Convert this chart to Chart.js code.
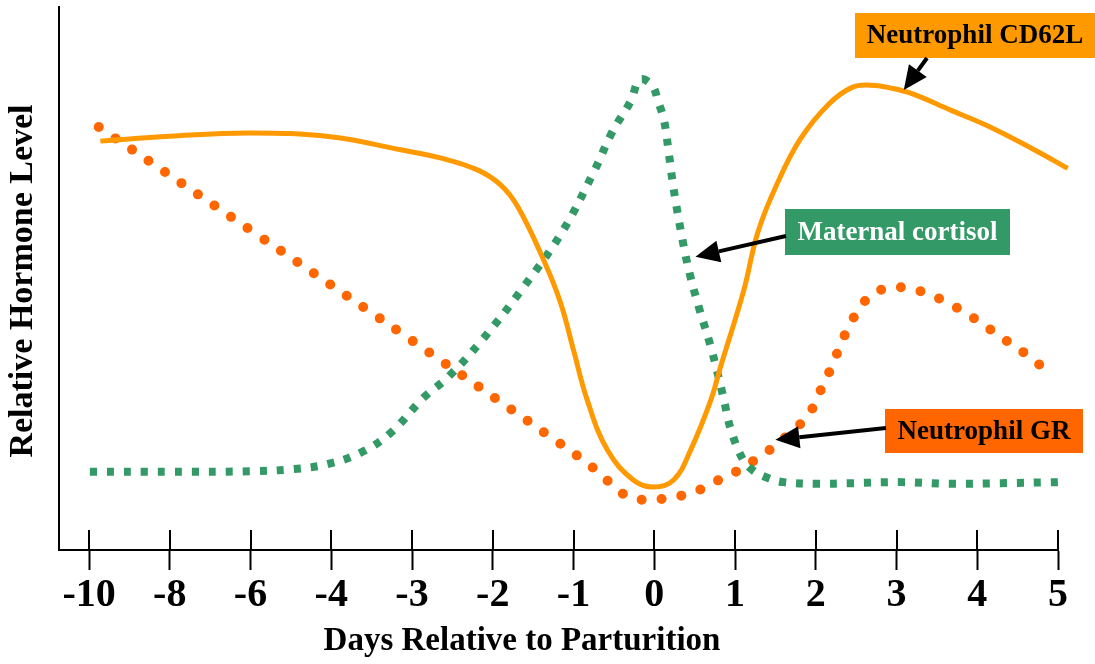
<!DOCTYPE html>
<html>
<head>
<meta charset="utf-8">
<script src="https://cdn.jsdelivr.net/npm/chart.js@4"></script>
<style>
  body { margin: 0; background: #fff; }
  canvas { display: block; }
</style>
</head>
<body>
<canvas id="grafica" width="1095" height="664"></canvas>
<script>
// tick labels (days) - axis is evenly spaced by position, not by day
const dayLabels = ['-10', '-8', '-6', '-4', '-3', '-2', '-1', '0', '1', '2', '3', '4', '5'];

// Neutrophil CD62L (position along axis, relative level)
const cd62lPos = [0.14, 1.0, 2.0, 2.99, 3.86, 4.35, 4.81, 5.1, 5.31, 5.63, 5.84, 6.0, 6.17, 6.42, 6.74, 6.99, 7.24, 7.45, 7.7, 7.82, 8.11, 8.28, 8.52, 8.81, 9.16, 9.45, 9.68, 9.92, 10.2, 10.67, 11.1, 11.67, 12.12];
const cd62lLevel = [75.3, 76.2, 76.8, 76.1, 73.7, 72.2, 70.0, 67.2, 63.2, 53.4, 45.5, 36.8, 27.6, 18.4, 12.9, 11.6, 12.9, 18.4, 27.6, 33.7, 47.9, 58.4, 67.4, 75.7, 82.1, 85.2, 85.6, 85.1, 84.0, 81.0, 78.3, 74.0, 70.3];

// Maternal cortisol
const cortisolPos = [0.01, 1.0, 2.0, 2.53, 2.95, 3.36, 3.73, 4.14, 4.45, 4.87, 5.38, 5.86, 6.25, 6.48, 6.71, 6.82, 6.97, 7.05, 7.12, 7.18, 7.24, 7.35, 7.44, 7.55, 7.7, 7.85, 7.95, 8.1, 8.22, 8.4, 8.6, 9.03, 9.43, 10.05, 10.67, 11.29, 12.0];
const cortisolLevel = [14.4, 14.4, 14.5, 14.9, 15.8, 17.9, 21.5, 28.0, 31.9, 38.7, 48.4, 58.6, 69.6, 77.0, 82.7, 86.6, 85.6, 82.5, 79.2, 73.1, 66.5, 57.1, 50.8, 44.8, 37.4, 28.5, 22.1, 16.6, 14.7, 13.3, 12.5, 12.2, 12.3, 12.5, 12.2, 12.3, 12.5];

// Neutrophil GR
const grPos = [0.12, 2.0, 3.86, 6.09, 6.3, 6.48, 6.68, 6.92, 7.17, 7.41, 7.64, 7.86, 8.1, 8.29, 8.5, 8.69, 8.88, 9.0, 9.1, 9.21, 9.3, 9.41, 9.53, 9.69, 9.92, 10.18, 10.41, 10.64, 10.86, 11.07, 11.27, 11.48, 11.68, 11.88];
const grLevel = [77.9, 58.9, 40.0, 16.9, 14.4, 12.0, 9.8, 9.2, 9.6, 10.3, 11.6, 13.4, 15.1, 17.1, 19.2, 21.7, 24.3, 27.3, 30.8, 34.1, 37.6, 41.1, 44.2, 47.0, 48.3, 48.1, 47.0, 45.5, 43.6, 41.6, 39.4, 37.4, 35.2, 32.8];

const fuente = 'Liberation Serif, "Times New Roman", serif';

function puntos(pos, level) {
  return pos.map((x, i) => ({ x, y: level[i] }));
}

// labels with arrows (tip given in data coords)
const etiquetas = [
  { texto: 'Neutrophil CD62L', box: [855, 13, 240, 45], fondo: '#FF9900', color: '#000', cola: [927, 58], punta: [10.09, 84.7] },
  { texto: 'Maternal cortisol', box: [785, 209, 225, 46], fondo: '#339966', color: '#fff', cola: [786, 236], punta: [7.51, 54.0] },
  { texto: 'Neutrophil GR', box: [885, 409, 198, 44], fondo: '#FF6600', color: '#000', cola: [886, 428], punta: [8.5, 20.3] }
];

const extras = {
  id: 'extras',
  afterDraw(chart) {
    const ctx = chart.ctx;
    const xs = chart.scales.x;
    const ys = chart.scales.y;
    const area = chart.chartArea;

    // tick marks above axis line
    ctx.save();
    ctx.strokeStyle = '#000';
    ctx.lineWidth = 2;
    dayLabels.forEach((_, i) => {
      const px = Math.round(xs.getPixelForValue(i));
      ctx.beginPath();
      ctx.moveTo(px, area.bottom - 20);
      ctx.lineTo(px, area.bottom);
      ctx.stroke();
    });

    // axis titles
    ctx.fillStyle = '#000';
    ctx.textAlign = 'center';
    ctx.textBaseline = 'middle';
    ctx.font = 'bold 33px ' + fuente;
    ctx.fillText('Days Relative to Parturition', 522, 641);
    ctx.save();
    ctx.translate(23, 281);
    ctx.rotate(-Math.PI / 2);
    ctx.font = 'bold 34px ' + fuente;
    ctx.fillText('Relative Hormone Level', 0, 0);
    ctx.restore();

    // labelled boxes + arrows
    etiquetas.forEach(e => {
      const [bx, by, bw, bh] = e.box;
      ctx.fillStyle = e.fondo;
      ctx.fillRect(bx, by, bw, bh);
      ctx.fillStyle = e.color;
      ctx.font = 'bold 27px ' + fuente;
      ctx.fillText(e.texto, bx + bw / 2, by + bh / 2 + 1);

      const tx = xs.getPixelForValue(e.punta[0]);
      const ty = ys.getPixelForValue(e.punta[1]);
      const [cx, cy] = e.cola;
      const ang = Math.atan2(ty - cy, tx - cx);
      const largo = 24, ancho = 11;
      const bxh = tx - largo * Math.cos(ang);
      const byh = ty - largo * Math.sin(ang);
      ctx.strokeStyle = '#000';
      ctx.lineWidth = 4;
      ctx.beginPath();
      ctx.moveTo(cx, cy);
      ctx.lineTo(bxh, byh);
      ctx.stroke();
      ctx.fillStyle = '#000';
      ctx.beginPath();
      ctx.moveTo(tx, ty);
      ctx.lineTo(bxh + ancho * Math.sin(ang), byh - ancho * Math.cos(ang));
      ctx.lineTo(bxh - ancho * Math.sin(ang), byh + ancho * Math.cos(ang));
      ctx.closePath();
      ctx.fill();
    });
    ctx.restore();
  }
};

new Chart(document.getElementById('grafica'), {
  type: 'line',
  data: {
    datasets: [
      {
        label: 'Neutrophil CD62L',
        data: puntos(cd62lPos, cd62lLevel),
        borderColor: '#FF9900',
        borderWidth: 5,
        pointRadius: 0,
        tension: 0.4,
        clip: false
      },
      {
        label: 'Maternal cortisol',
        data: puntos(cortisolPos, cortisolLevel),
        borderColor: '#339966',
        borderWidth: 8,
        borderDash: [7, 10],
        borderCapStyle: 'butt',
        pointRadius: 0,
        tension: 0.4,
        clip: false
      },
      {
        label: 'Neutrophil GR',
        data: puntos(grPos, grLevel),
        borderColor: '#FF6600',
        borderWidth: 10,
        borderDash: [0, 20],
        borderCapStyle: 'round',
        pointRadius: 0,
        tension: 0.4,
        clip: false
      }
    ]
  },
  options: {
    responsive: false,
    animation: false,
    layout: { padding: { left: 59, right: 37, top: 7, bottom: 0 } },
    plugins: {
      legend: { display: false },
      tooltip: { enabled: false }
    },
    scales: {
      x: {
        type: 'linear',
        min: -0.372,
        max: 12.0,
        afterBuildTicks: scale => {
          scale.ticks = dayLabels.map((_, i) => ({ value: i }));
        },
        afterFit: scale => { scale.height = 114; },
        grid: {
          drawOnChartArea: false,
          tickLength: 20,
          tickWidth: 2,
          tickColor: '#000'
        },
        border: { color: '#000', width: 2 },
        ticks: {
          autoSkip: false,
          maxRotation: 0,
          padding: 2,
          color: '#000',
          font: { family: fuente, size: 40, weight: 'bold' },
          callback: v => dayLabels[v]
        }
      },
      y: {
        min: 0,
        max: 100,
        afterFit: scale => { scale.width = 0; },
        grid: { display: false },
        border: { color: '#000', width: 2 },
        ticks: { display: false }
      }
    }
  },
  plugins: [extras]
});
</script>
</body>
</html>
